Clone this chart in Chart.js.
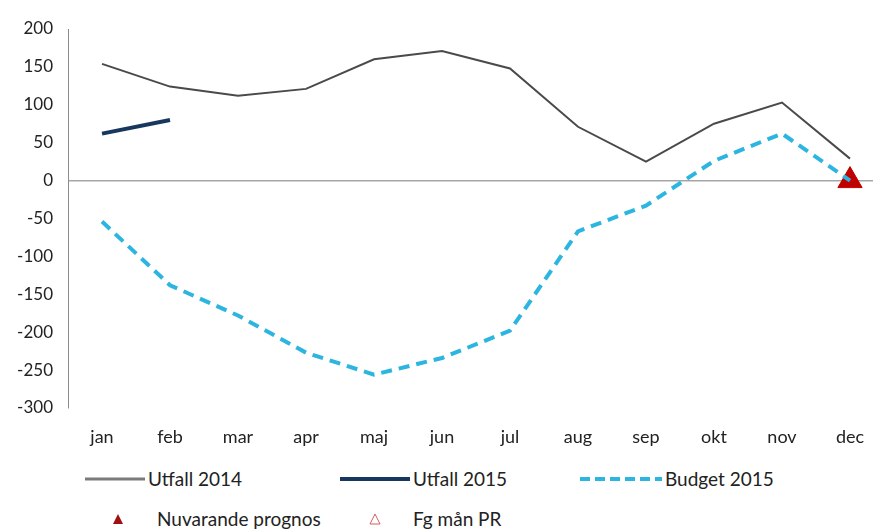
<!DOCTYPE html>
<html>
<head>
<meta charset="utf-8">
<script src="https://cdn.jsdelivr.net/npm/chart.js@4/dist/chart.umd.min.js"></script>
<style>
  body { margin: 0; background: #fff; font-family: Lato, "Open Sans", sans-serif; overflow: hidden; }
  #wrap { position: relative; width: 873px; height: 532px; overflow: hidden; }
  #chartBox { position: absolute; left: 0; top: 0; width: 884px; height: 455px; }
  .leg { position: absolute; font-size: 19px; color: #222; display: flex; align-items: center; white-space: nowrap; }
  .leg canvas { margin-right: 3px; }
</style>
</head>
<body>
<div id="wrap">
  <div id="chartBox"><canvas id="chart"></canvas></div>
  <div class="leg" style="left:85px; top:467px"><canvas id="l1" width="60" height="10"></canvas>Utfall 2014</div>
  <div class="leg" style="left:340px; top:467px"><canvas id="l2" width="70" height="10"></canvas>Utfall 2015</div>
  <div class="leg" style="left:580px; top:467px"><canvas id="l3" width="82" height="10"></canvas>Budget 2015</div>
  <div class="leg" style="left:110px; top:507px"><canvas id="l4" width="16" height="14" style="margin-right:31px"></canvas>Nuvarande prognos</div>
  <div class="leg" style="left:367px; top:507px"><canvas id="l5" width="16" height="14" style="margin-right:30px"></canvas>Fg mån PR</div>
</div>
<script>
// Данные
const months = ['jan', 'feb', 'mar', 'apr', 'maj', 'jun', 'jul', 'aug', 'sep', 'okt', 'nov', 'dec'];
const utfall2014 = [154, 124, 112, 121, 160, 171, 148, 71, 25, 75, 103, 29];
const utfall2015 = [62, 80, null, null, null, null, null, null, null, null, null, null];
const budget2015 = [-54, -138, -178, -227, -256, -234, -198, -67, -33, 26, 62, 0];
const nuvarandePrognos = [null, null, null, null, null, null, null, null, null, null, null, 0];
const fgManPR = [null, null, null, null, null, null, null, null, null, null, null, null];

const tickFont = { family: 'Lato, "Open Sans", sans-serif', size: 17 };

new Chart(document.getElementById('chart'), {
    type: 'line',
    data: {
        labels: months,
        datasets: [
            {
                label: 'Utfall 2014',
                data: utfall2014,
                borderColor: '#4a4a4a',
                borderWidth: 2,
                pointRadius: 0,
                tension: 0
            },
            {
                label: 'Utfall 2015',
                data: utfall2015,
                borderColor: '#17375e',
                borderWidth: 4,
                pointRadius: 0,
                tension: 0
            },
            {
                label: 'Budget 2015',
                data: budget2015,
                borderColor: '#2cb5e0',
                borderWidth: 4,
                borderDash: [11, 7],
                pointRadius: 0,
                tension: 0
            },
            {
                label: 'Nuvarande prognos',
                data: nuvarandePrognos,
                showLine: false,
                pointStyle: 'triangle',
                pointRadius: 14,
                backgroundColor: '#c00000',
                borderColor: '#c00000'
            },
            {
                label: 'Fg mån PR',
                data: fgManPR,
                showLine: false,
                pointStyle: 'triangle',
                pointRadius: 14,
                backgroundColor: '#fff',
                borderColor: '#c00000'
            }
        ]
    },
    options: {
        responsive: true,
        maintainAspectRatio: false,
        animation: false,
        layout: { autoPadding: false, padding: { left: 0, right: 0, top: 29, bottom: 0 } },
        plugins: {
            legend: { display: false },
            tooltip: { enabled: false }
        },
        scales: {
            y: {
                min: -300,
                max: 200,
                ticks: { stepSize: 50, font: tickFont, color: '#222', padding: 15 },
                grid: {
                    drawTicks: false,
                    color: ctx => ctx.tick && ctx.tick.value === 0 ? '#a6a6a6' : 'rgba(0,0,0,0)',
                    lineWidth: 1.5
                },
                border: { display: true, color: '#8c8c8c', width: 1 },
                afterFit: scale => { scale.width = 68; }
            },
            x: {
                offset: true,
                ticks: { font: { family: tickFont.family, size: 18 }, color: '#222', padding: 18 },
                grid: { display: false, drawTicks: false },
                border: { display: false },
                afterFit: scale => { scale.height = 47; }
            }
        }
    }
});

// Легенда
function legLine(id, color, width, dash) {
    const c = document.getElementById(id).getContext('2d');
    c.strokeStyle = color;
    c.lineWidth = width;
    c.setLineDash(dash || []);
    c.beginPath();
    c.moveTo(0, 5);
    c.lineTo(c.canvas.width, 5);
    c.stroke();
}
function legTri(id, fill) {
    const c = document.getElementById(id).getContext('2d');
    c.beginPath();
    c.moveTo(8, 2);
    c.lineTo(13, 12);
    c.lineTo(3, 12);
    c.closePath();
    if (fill) { c.fillStyle = '#a01010'; c.fill(); }
    else { c.strokeStyle = '#d06060'; c.lineWidth = 1; c.stroke(); }
}
legLine('l1', '#7a7a7a', 3);
legLine('l2', '#17375e', 4);
legLine('l3', '#2cb5e0', 4, [10, 5]);
legTri('l4', true);
legTri('l5', false);
</script>
</body>
</html>
